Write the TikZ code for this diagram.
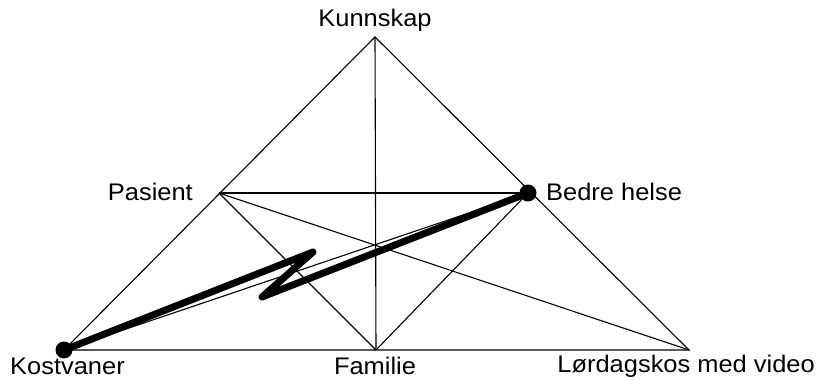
\documentclass[tikz,border=0pt]{standalone}
\usepackage{fontspec}
\setmainfont{Liberation Sans}
\begin{document}
\begin{tikzpicture}[x=1pt,y=-1pt,
  thin line/.style={line width=1.1pt,black},
  thick line/.style={line width=7pt,black,line join=round,line cap=round},
  lbl/.style={font=\fontsize{24}{28}\selectfont,inner sep=0pt,xscale=1.06},
  pt/.style={circle,fill=black,minimum size=17pt,inner sep=0pt}]
\useasboundingbox (0,0) rectangle (820,380);
\coordinate (K) at (375,37);
\coordinate (KV) at (64,350);
\coordinate (L) at (689,350);
\coordinate (F) at (376,350);
\coordinate (P) at (219,193);
\coordinate (B) at (528,193);
\coordinate (z1) at (313,252);
\coordinate (z2) at (262,297);
% triangle
\draw[thin line] (KV) -- (K) -- (L) -- cycle;
\draw[thin line] (K) -- (F);
\draw[thin line] (P) -- (B);
\draw[thin line] (P) -- (F) -- (B);
\draw[thin line] (P) -- (L);
\draw[thin line] (KV) -- (B);
% lightning
\draw[thick line] (KV) -- (z1) -- (z2) -- (B);
\node[pt] (dKV) at (KV) {};
\node[pt] (dB) at (B) {};
% labels
\node[lbl] (tK) at (375,20) {Kunnskap};
\node[lbl,anchor=east] (tP) at (193,192) {Pasient};
\node[lbl,anchor=west] (tB) at (546,192) {Bedre helse};
\node[lbl,anchor=west] (tKV) at (10,366) {Kostvaner};
\node[lbl] (tF) at (375,366) {Familie};
\node[lbl,anchor=east] (tL) at (815,366) {Lørdagskos med video};
\end{tikzpicture}
\end{document}
